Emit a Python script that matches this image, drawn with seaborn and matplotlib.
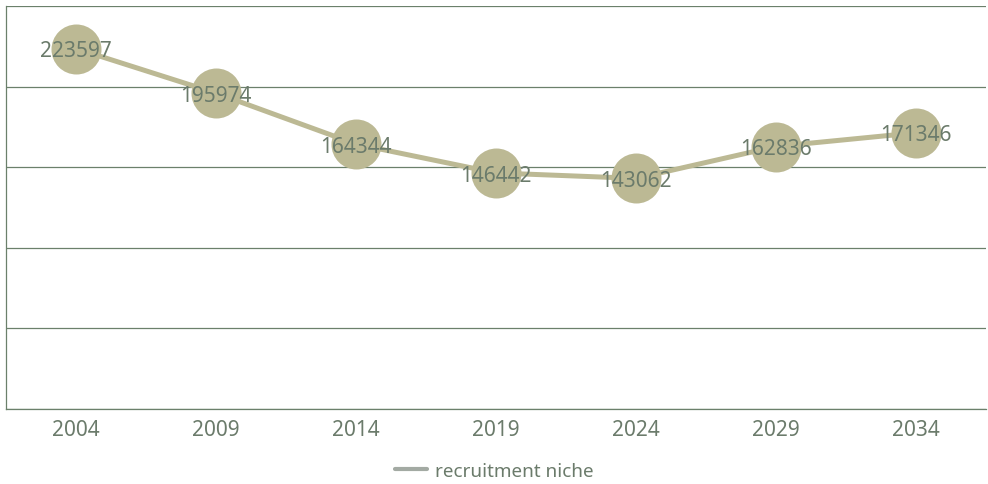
import numpy as np
import pandas as pd
import matplotlib
matplotlib.use("Agg")
import matplotlib.pyplot as plt
import seaborn as sns
from matplotlib.lines import Line2D

years = ["2004", "2009", "2014", "2019", "2024", "2029", "2034"]
recruitment = [223597, 195974, 164344, 146442, 143062, 162836, 171346]

sns.set_theme(style="white")
plt.rcParams['font.family'] = ['Noto Sans', 'DejaVu Sans']

text_col = "#6b7b6b"
grid_col = "#6b806b"
mark_col = "#bcb994"

df = pd.DataFrame({"year": years, "value": recruitment})

fig = plt.figure(figsize=(9.88, 4.85), dpi=100)
ax = fig.add_axes([6 / 988, 1 - 410 / 485, 980 / 988, 403 / 485])

sns.lineplot(data=df, x="year", y="value", ax=ax, color=mark_col, linewidth=3.6,
             marker="o", markersize=36, markeredgewidth=0, sort=False)

for i, v in enumerate(recruitment):
    ax.annotate(str(v), (i, v), xytext=(0, -1.5), textcoords="offset points",
                ha="center", va="center", fontsize=15, color=text_col)

ax.set_ylim(0, 250000)
ax.set_xlim(-0.5, len(years) - 0.5)
ax.set_yticks(np.arange(0, 250001, 50000))
ax.set_yticklabels([])
ax.yaxis.grid(True, color=grid_col, linewidth=0.9)
ax.set_axisbelow(True)
ax.tick_params(axis="x", colors=text_col, labelsize=15, length=0, pad=7)
ax.tick_params(axis="y", length=0)
ax.set_xlabel("")
ax.set_ylabel("")
for s in ["top", "right"]:
    ax.spines[s].set_visible(False)
for s in ["left", "bottom"]:
    ax.spines[s].set_color(grid_col)
    ax.spines[s].set_linewidth(0.9)

handle = Line2D([0], [0], color="#a3aaa3", linewidth=3)
fig.legend([handle], ["recruitment niche"], loc="center", bbox_to_anchor=(0.5, 1 - 472 / 485),
           frameon=False, fontsize=13.6, labelcolor=text_col, handlelength=1.7, handletextpad=0.4)

fig.savefig("out.png", dpi=100)
